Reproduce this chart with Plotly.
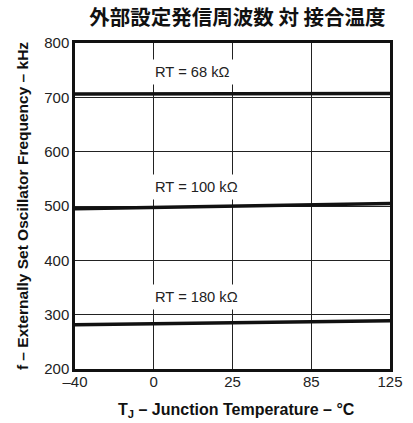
import plotly.graph_objects as go

temps = ["–40", "0", "25", "85", "125"]
rt68 = [706, 706, 706, 706, 707]
rt100 = [495, 497.6, 500.5, 503, 504.5]
rt180 = [281.5, 283.4, 285, 287.6, 289]
series = [("RT = 68 kΩ", rt68, 747), ("RT = 100 kΩ", rt100, 535), ("RT = 180 kΩ", rt180, 332)]

xs = list(range(len(temps)))
fig = go.Figure()
for name, ys, ly in series:
    fig.add_trace(go.Scatter(x=xs, y=ys, mode="lines", line=dict(color="#111", width=3.5),
                             showlegend=False, hoverinfo="skip"))
    fig.add_annotation(x=1, y=ly, text=name, showarrow=False, xanchor="left", xshift=-4,
                       font=dict(family="Liberation Sans, Arial", size=14.7, color="#222"),
                       bgcolor="white", borderpad=4)

fig.add_annotation(xref="paper", yref="paper", x=0.512, y=-0.126, xanchor="center", yanchor="middle",
                   text="<b>T<sub>J</sub> – Junction Temperature – °C</b>", showarrow=False,
                   font=dict(family="Liberation Sans, Arial", size=16, color="#111"))

fig.update_layout(
    width=413, height=423,
    margin=dict(l=75, r=10, t=43, b=54),
    paper_bgcolor="white", plot_bgcolor="white",
    title=dict(text="<b>外部設定発信周波数 対 接合温度</b>", x=0.575, xanchor="center", y=0.958, yanchor="middle",
               font=dict(family="Noto Sans CJK JP", size=20.5, color="#111")),
    xaxis=dict(range=[0, 4], tickmode="array", tickvals=xs, ticktext=temps,
               showgrid=True, gridcolor="#222", gridwidth=1, zeroline=False,
               showline=True, linecolor="#111", linewidth=2.5, mirror=True,
               ticks="", ticklabelstandoff=-3,
               tickfont=dict(family="Liberation Sans, Arial", size=15, color="#222")),
    yaxis=dict(range=[200, 800], tickmode="array", tickvals=[200, 300, 400, 500, 600, 700, 800],
               showgrid=True, gridcolor="#222", gridwidth=1, zeroline=False,
               showline=True, linecolor="#111", linewidth=2.5, mirror=True,
               ticks="", tickfont=dict(family="Liberation Sans, Arial", size=15, color="#222"),
               title=dict(text="<b>f – Externally Set Oscillator Frequency – kHz</b>", standoff=12,
                          font=dict(family="Liberation Sans, Arial", size=15.5, color="#111"))),
)
fig.write_html("out.html")
